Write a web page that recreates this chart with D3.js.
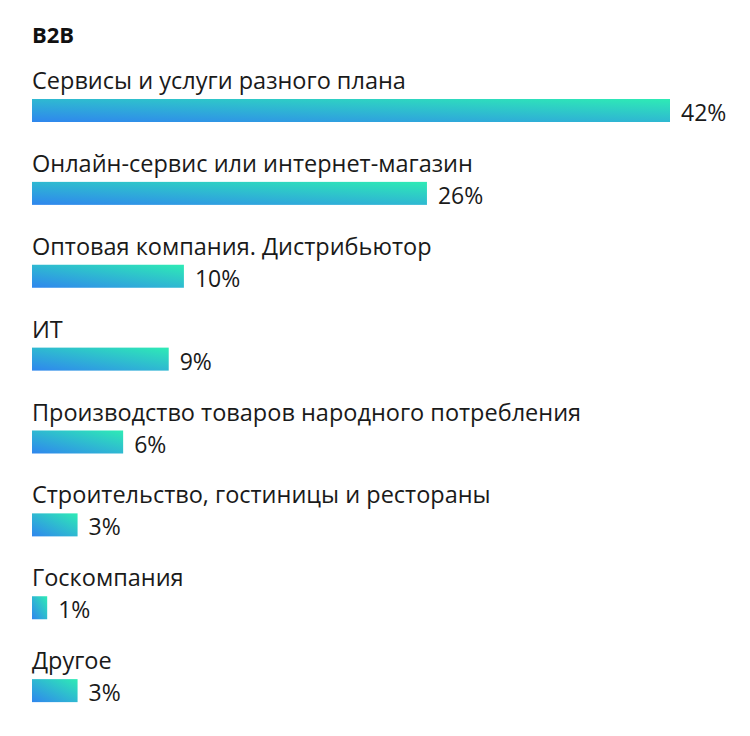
<!DOCTYPE html>
<html><head><meta charset="utf-8">
<script src="https://cdn.jsdelivr.net/npm/d3@7"></script>
<style>body{margin:0;background:#fff}</style>
</head><body><svg id="c" width="750" height="736"></svg>
<script>
var categories = ["Сервисы и услуги разного плана", "Онлайн-сервис или интернет-магазин",
  "Оптовая компания. Дистрибьютор", "ИТ", "Производство товаров народного потребления",
  "Строительство, гостиницы и рестораны", "Госкомпания", "Другое"];
var values = [42, 26, 10, 9, 6, 3, 1, 3];
var title = "B2B";

var svg = d3.select("#c");
var defs = svg.append("defs");
var g = defs.append("linearGradient").attr("id", "grad")
  .attr("x1", "0").attr("y1", "1").attr("x2", "1").attr("y2", "0");
g.append("stop").attr("offset", "0").attr("stop-color", "#2f86ee");
g.append("stop").attr("offset", "1").attr("stop-color", "#2eebb5");

var x = d3.scaleLinear().domain([0, 42]).range([0, 638]);
var y = d3.scaleBand().domain(categories).range([58, 721]);

svg.append("text").attr("x", 32).attr("y", 43).text(title)
  .attr("font-family", "Open Sans").attr("font-weight", 700).attr("font-size", 22).attr("fill", "#111");

var row = svg.selectAll("g.row").data(categories).enter().append("g")
  .attr("transform", function (d) { return "translate(32," + y(d) + ")"; });
row.append("text").attr("y", 31).text(function (d) { return d; })
  .attr("font-family", "Open Sans").attr("font-size", 23.5).attr("fill", "#1a1a1a");
row.append("rect").attr("y", 41).attr("height", 23)
  .attr("width", function (d, i) { return x(values[i]); })
  .attr("fill", "url(#grad)");
row.append("text").attr("y", 63)
  .attr("x", function (d, i) { return x(values[i]) + 11; })
  .text(function (d, i) { return values[i] + "%"; })
  .attr("font-family", "Open Sans").attr("font-size", 23).attr("fill", "#1a1a1a");
</script></body></html>
